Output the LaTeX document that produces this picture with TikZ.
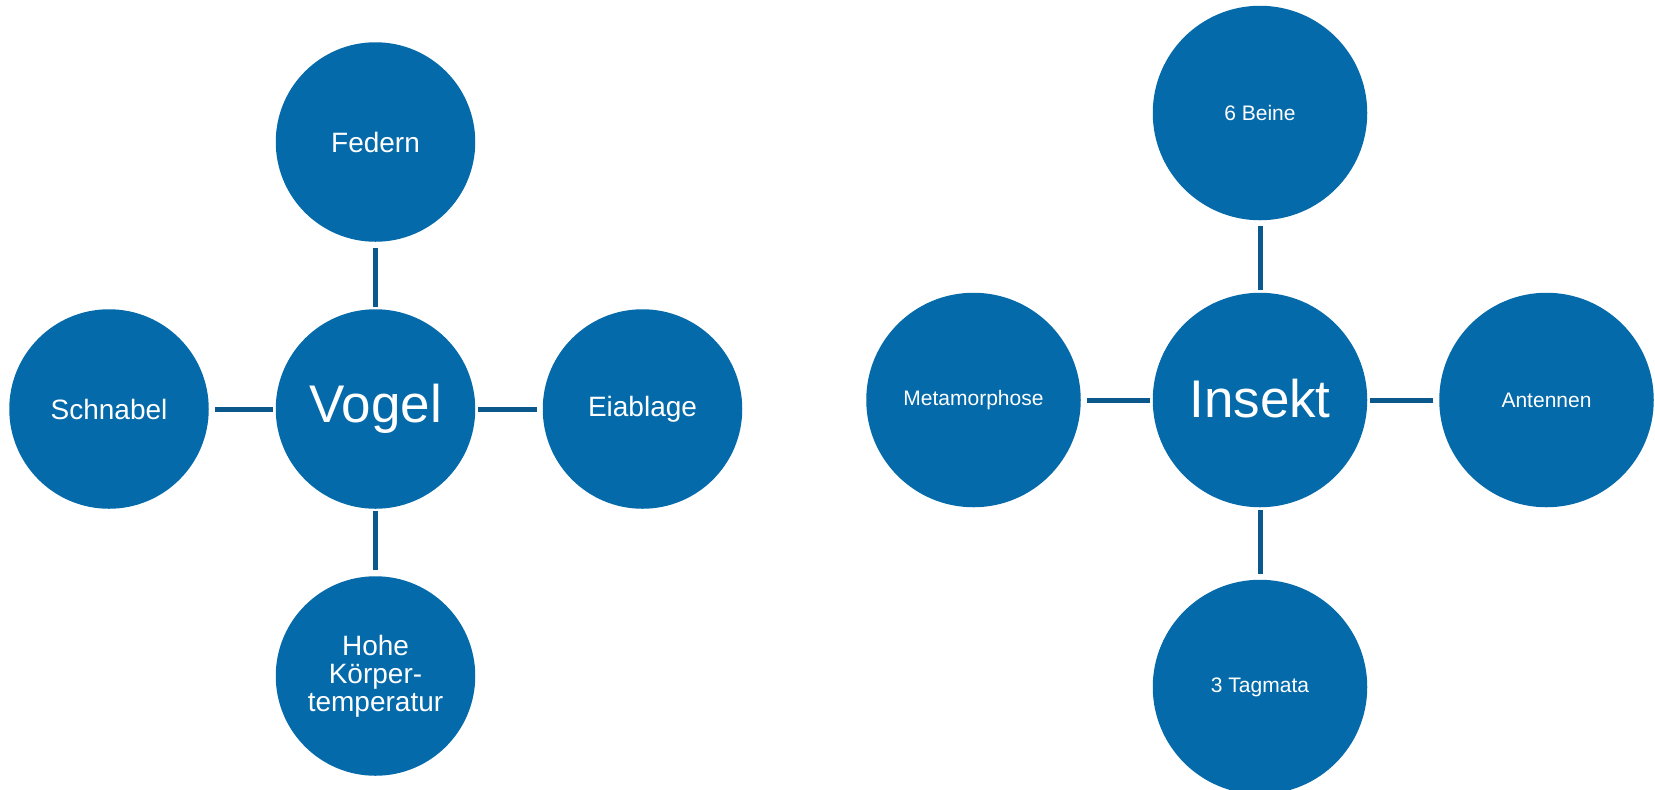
\documentclass[tikz,border=0pt]{standalone}
\usepackage{fontspec}
\setmainfont{Liberation Sans}
\definecolor{discfill}{RGB}{4,106,170}
\definecolor{linkblue}{RGB}{10,88,140}
\begin{document}
\begin{tikzpicture}[x=0.5pt,y=-0.5pt,
  disc/.style={circle,fill=discfill,draw=none,inner sep=0pt,outer sep=0pt,
    text=white,align=center},
  smalldisc/.style={disc,minimum size=99.75pt,font=\fontsize{14pt}{14pt}\selectfont},
  largedisc/.style={disc,minimum size=107.25pt,font=\fontsize{10.5pt}{12pt}\selectfont},
  hubfont/.style={font=\fontsize{26.5pt}{28pt}\selectfont},
  link/.style={draw=linkblue,line width=2.5pt,line cap=butt,shorten <=3pt,shorten >=1.2pt}]
\clip (0,0) rectangle (1655,789);
\fill[white] (0,0) rectangle (1655,789);

% bird map
\node[smalldisc,hubfont] (vogel) at (375.5,409) {Vogel};
\node[smalldisc] (federn) at (375.5,142) {Federn};
\node[smalldisc] (schnabel) at (109,409) {Schnabel};
\node[smalldisc] (eiablage) at (642.5,409) {Eiablage};
\node[smalldisc] (koerper) at (375.5,676) {Hohe\\Körper-\\temperatur};
\foreach \n in {federn,schnabel,eiablage,koerper}
  \draw[link] (\n) -- (vogel);

% insect map
\node[largedisc,hubfont] (insekt) at (1260,400) {\raisebox{1.5pt}{Insekt}};
\node[largedisc] (beine) at (1260,113) {6 Beine};
\node[largedisc] (metamorph) at (973.5,400) {Metamorphose};
\node[largedisc] (antennen) at (1546.5,400) {Antennen};
\node[largedisc] (tagmata) at (1260,687) {3 Tagmata};
\foreach \n in {beine,metamorph,antennen,tagmata}
  \draw[link] (\n) -- (insekt);
\end{tikzpicture}
\end{document}
